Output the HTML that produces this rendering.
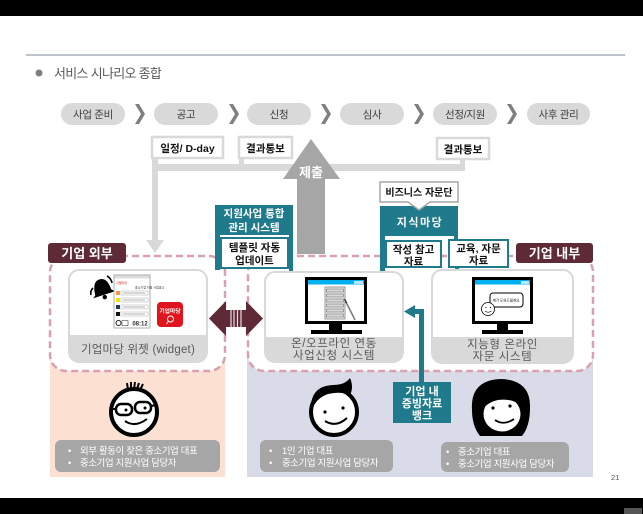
<!DOCTYPE html>
<html><head><meta charset="utf-8">
<style>
html,body{margin:0;padding:0;background:#fff;}
svg{display:block;}
text{font-family:"Liberation Sans","Noto Sans CJK KR",sans-serif;}
</style></head><body>
<svg width="643" height="514" viewBox="0 0 643 514" xmlns="http://www.w3.org/2000/svg">
<!-- bars -->
<rect x="0" y="0" width="643" height="16" fill="#000"/>
<rect x="0" y="498" width="643" height="16" fill="#000"/>
<rect x="624" y="508" width="18" height="6" fill="#555"/>

<!-- header -->
<line x1="26" y1="55" x2="625" y2="55" stroke="#a7afbb" stroke-width="1.5"/>
<circle cx="39" cy="73" r="3.5" fill="#7f7f7f"/>
<text x="54" y="78" font-size="13" fill="#595959" letter-spacing="-0.7">서비스 시나리오 종합</text>

<!-- process pills -->
<g fill="#d9d9d9">
<rect x="61" y="103" width="64" height="22" rx="11"/>
<rect x="154" y="103" width="64" height="22" rx="11"/>
<rect x="247" y="103" width="64" height="22" rx="11"/>
<rect x="340" y="103" width="64" height="22" rx="11"/>
<rect x="433" y="103" width="64" height="22" rx="11"/>
<rect x="527" y="103" width="63" height="22" rx="11"/>
</g>
<g font-size="10.5" fill="#404040" text-anchor="middle" letter-spacing="-0.3">
<text x="93" y="118">사업 준비</text>
<text x="186" y="118">공고</text>
<text x="279" y="118">신청</text>
<text x="372" y="118">심사</text>
<text x="465" y="118">선정/지원</text>
<text x="558.5" y="118">사후 관리</text>
</g>
<g fill="#7f7f7f">
<polygon points="135,104 139,104 145,114 139,124 135,124 141,114"/>
<polygon points="229,104 233,104 239,114 233,124 229,124 235,114"/>
<polygon points="321,104 325,104 331,114 325,124 321,124 327,114"/>
<polygon points="414,104 418,104 424,114 418,124 414,124 420,114"/>
<polygon points="507,104 511,104 517,114 511,124 507,124 513,114"/>
</g>

<!-- background regions -->
<rect x="50" y="350" width="175" height="127" fill="#fce1d3"/>
<rect x="247" y="350" width="346" height="127" fill="#dadbe9"/>
<rect x="50" y="256" width="175" height="115" rx="16" fill="#fff" stroke="#d8a1ad" stroke-width="2.5" stroke-dasharray="7 4"/>
<rect x="248" y="256" width="345" height="115" rx="16" fill="#fff" stroke="#d8a1ad" stroke-width="2.5" stroke-dasharray="7 4"/>

<!-- grey connectors -->
<g fill="#d9d9d9">
<rect x="152" y="164" width="313" height="7"/>
<rect x="152" y="158" width="6" height="84"/>
<polygon points="146,240 164,240 155,253"/>
<rect x="239" y="158" width="5" height="7"/>
<rect x="460" y="158" width="5" height="7"/>
</g>
<g fill="#fff" stroke="#d9d9d9" stroke-width="2.5">
<rect x="152" y="137" width="71" height="21"/>
<rect x="239" y="137" width="53" height="21"/>
<rect x="437" y="138" width="52" height="21"/>
</g>
<g font-size="10.5" font-weight="bold" fill="#111" text-anchor="middle">
<text x="187.5" y="152">일정/ D-day</text>
<text x="265.5" y="152">결과통보</text>
<text x="463" y="153">결과통보</text>
</g>

<!-- 제출 arrow -->
<polygon points="311,139 340,179 325,179 325,254 297,254 297,179 283,179" fill="#a6a6a6"/>
<text x="311" y="177" font-size="13" font-weight="bold" fill="#fff" text-anchor="middle">제출</text>

<!-- 지원사업 통합 관리 시스템 -->
<g fill="#1f7a8c">
<rect x="215" y="205" width="78" height="30"/>
<rect x="215" y="235" width="5" height="35"/>
<rect x="289" y="235" width="4" height="42"/>
<polygon points="284,276 298,276 291,289"/>
</g>
<rect x="221" y="238" width="67" height="30" fill="#fff" stroke="#1f7a8c" stroke-width="2"/>
<g font-size="10.5" font-weight="bold" text-anchor="middle">
<text x="254" y="217" fill="#fff">지원사업 통합</text>
<text x="254" y="231" fill="#fff">관리 시스템</text>
<text x="254.5" y="251" fill="#111">템플릿 자동</text>
<text x="254.5" y="264" fill="#111">업데이트</text>
</g>

<!-- 지식마당 -->
<g fill="#1f7a8c">
<rect x="380" y="206" width="78" height="30"/>
<rect x="380" y="236" width="5" height="40"/>
<polygon points="376,276 390,276 383,289"/>
<rect x="454" y="236" width="4" height="5"/>
<rect x="455" y="267" width="4" height="9"/>
<polygon points="450,275 464,275 457,288"/>
</g>
<rect x="386" y="241" width="55" height="26" fill="#fff" stroke="#1f7a8c" stroke-width="2"/>
<rect x="449" y="240" width="59" height="27" fill="#fff" stroke="#1f7a8c" stroke-width="2"/>
<path d="M380,182 H458 V202 H430 L419,210 L408,202 H380 Z" fill="#fff" stroke="#a6a6a6" stroke-width="1.5"/>
<g font-weight="bold" text-anchor="middle">
<text x="419" y="196" font-size="10" fill="#111">비즈니스 자문단</text>
<text x="420" y="226" font-size="11" fill="#fff" letter-spacing="1.5">지식마당</text>
<text x="413.5" y="253" font-size="10.5" fill="#111">작성 참고</text>
<text x="413.5" y="265" font-size="10.5" fill="#111">자료</text>
<text x="478.5" y="252" font-size="10.5" fill="#111">교육, 자문</text>
<text x="478.5" y="264" font-size="10.5" fill="#111">자료</text>
</g>

<!-- region labels -->
<rect x="48" y="243" width="78" height="20" rx="3" fill="#5e2a35"/>
<rect x="516" y="243" width="77" height="20" rx="3" fill="#5e2a35"/>
<g font-size="13" font-weight="bold" fill="#fff" text-anchor="middle">
<text x="87" y="258">기업 외부</text>
<text x="554.5" y="258">기업 내부</text>
</g>

<!-- cards -->
<g fill="#fff" stroke="#d9d9d9" stroke-width="2">
<rect x="69" y="270" width="138" height="92" rx="10"/>
<rect x="265" y="272" width="138" height="90" rx="10"/>
<rect x="432" y="270" width="141" height="93" rx="10"/>
</g>
<g fill="#d9d9d9">
<path d="M70,335 H206 V352 Q206,361 197,361 H79 Q70,361 70,352 Z"/>
<path d="M266,337 H402 V352 Q402,361 393,361 H275 Q266,361 266,352 Z"/>
<path d="M433,337 H572 V353 Q572,362 563,362 H442 Q433,362 433,353 Z"/>
</g>
<g font-size="11.5" fill="#595959" text-anchor="middle">
<text x="138" y="353" letter-spacing="0.2">기업마당 위젯 (widget)</text>
<text x="334" y="347" letter-spacing="0.6">온/오프라인 연동</text>
<text x="334" y="359" letter-spacing="0.6">사업신청 시스템</text>
<text x="502.5" y="348" letter-spacing="0.6">지능형 온라인</text>
<text x="502.5" y="360" letter-spacing="0.6">자문 시스템</text>
</g>

<!-- widget contents -->
<g transform="rotate(-18 102 287)">
<path d="M93,293 C94,284 96,279 102,279 C108,279 110,285 110,292 L113,295 L90,295 Z" fill="#000"/>
<circle cx="101.5" cy="297.5" r="2.2" fill="#000"/>
</g>
<path d="M107,276 q4,2 5,7" stroke="#000" stroke-width="1.6" fill="none"/>
<path d="M93,288 q-3,3 -2,7" stroke="#000" stroke-width="1.6" fill="none"/>
<rect x="114" y="275" width="36" height="53" fill="#fff" stroke="#9a9a9a" stroke-width="0.8"/>
<rect x="114.5" y="275.5" width="35" height="3" fill="#ddd"/>
<text x="116" y="284" font-size="3" fill="#c00">기업마당</text>
<text x="135" y="288.5" font-size="3" fill="#333">중소기업 지원 사업공고</text>
<rect x="116" y="291" width="4" height="4" fill="#f79646"/>
<rect x="116" y="298" width="4" height="4" fill="#e8e800"/>
<rect x="116" y="305" width="4" height="4" fill="#1f3864"/>
<rect x="116" y="312" width="4" height="4" fill="#111"/>
<g fill="none" stroke="#aaa" stroke-width="0.5">
<rect x="121" y="291" width="27" height="4"/>
<rect x="121" y="298" width="27" height="4"/>
<rect x="121" y="305" width="27" height="4"/>
<rect x="121" y="312" width="27" height="4"/>
</g>
<g stroke="#666" stroke-width="0.6">
<line x1="123" y1="293" x2="145" y2="293"/>
<line x1="123" y1="300" x2="145" y2="300"/>
<line x1="123" y1="307" x2="145" y2="307"/>
<line x1="123" y1="314" x2="145" y2="314"/>
</g>
<circle cx="118.5" cy="323" r="2.5" fill="none" stroke="#222" stroke-width="1"/>
<rect x="122" y="320.5" width="6" height="5" fill="none" stroke="#444" stroke-width="0.6"/>
<text x="140" y="325.5" font-size="6" font-weight="bold" fill="#333" text-anchor="middle">08:12</text>
<rect x="157" y="302" width="26" height="25" rx="4" fill="#e0141c"/>
<text x="170" y="313" font-size="5.8" font-weight="bold" fill="#fff" text-anchor="middle">기업마당</text>
<circle cx="170.5" cy="319" r="3" fill="none" stroke="#fff" stroke-width="1"/>
<line x1="168.5" y1="321" x2="166.5" y2="324" stroke="#fff" stroke-width="1"/>

<!-- middle monitor -->
<rect x="305" y="277" width="62" height="47" fill="#000"/>
<rect x="308" y="280" width="56" height="41" fill="#fff"/>
<rect x="308" y="280" width="56" height="4.5" fill="#00b0f0"/>
<rect x="354" y="281" width="9" height="3" fill="#fff" opacity="0.7"/>
<rect x="329" y="324" width="13" height="6" fill="#000"/>
<rect x="311" y="330" width="51" height="4" fill="#000"/>
<rect x="325" y="287" width="20" height="32" fill="#eee" stroke="#7f7f7f" stroke-width="0.8"/>
<g fill="#d9d9d9" stroke="#7f7f7f" stroke-width="0.7">
<rect x="326.5" y="289" width="17" height="3"/>
<rect x="326.5" y="294" width="17" height="3"/>
<rect x="326.5" y="299" width="17" height="3"/>
<rect x="326.5" y="304" width="17" height="3"/>
<rect x="326.5" y="309" width="17" height="3"/>
<rect x="326.5" y="314" width="17" height="3"/>
</g>
<line x1="345" y1="300" x2="355" y2="320" stroke="#7f7f7f" stroke-width="1.6"/>
<line x1="344.5" y1="299" x2="346.5" y2="303" stroke="#222" stroke-width="1.2"/>

<!-- right monitor -->
<rect x="472" y="277" width="61" height="47" fill="#000"/>
<rect x="475" y="280" width="55" height="41" fill="#fff"/>
<rect x="475" y="280" width="55" height="4.5" fill="#00b0f0"/>
<rect x="521" y="281" width="8" height="3" fill="#fff" opacity="0.7"/>
<rect x="497" y="324" width="11" height="6" fill="#000"/>
<rect x="482" y="330" width="41" height="4" fill="#000"/>
<rect x="490" y="293" width="33" height="14" rx="3" fill="#fff" stroke="#000" stroke-width="1"/>
<text x="506.5" y="301.5" font-size="3.5" fill="#000" text-anchor="middle">제가 도와드릴게요.</text>
<circle cx="488" cy="309" r="6.5" fill="#fff" stroke="#000" stroke-width="0.8"/>
<circle cx="486" cy="307.5" r="0.6" fill="#000"/>
<circle cx="490.5" cy="307.5" r="0.6" fill="#000"/>
<path d="M485,311 Q488,313.5 491.5,311" fill="none" stroke="#000" stroke-width="0.6"/>

<!-- double arrow -->
<polygon points="209,318.5 226,301 226,310 246,310 246,301 263,318.5 246,336 246,327 226,327 226,336" fill="#5e2a35"/>
<g stroke="#fff" stroke-width="1.2" opacity="0.85">
<line x1="231" y1="310" x2="231" y2="327"/>
<line x1="234" y1="310" x2="234" y2="327"/>
<line x1="237.5" y1="310" x2="237.5" y2="327"/>
<line x1="241" y1="310" x2="241" y2="327"/>
</g>

<!-- 증빙자료 bank -->
<g fill="#1f7a8c">
<rect x="419" y="309" width="5" height="73"/>
<rect x="413" y="309" width="11" height="5"/>
<polygon points="404,311.5 415,305 415,318"/>
<rect x="393" y="382" width="58" height="41"/>
</g>
<g font-size="11" font-weight="bold" fill="#fff" text-anchor="middle">
<text x="422" y="395">기업 내</text>
<text x="422" y="407">증빙자료</text>
<text x="422" y="419">뱅크</text>
</g>

<!-- faces -->
<!-- left: glasses -->
<g stroke="#000" fill="none" stroke-width="2">
<path d="M128,390 l-1,-7 M131,389 l0,-7 M134,389 l1,-7 M137,389 l2,-6 M140,390 l3,-6"/>
</g>
<circle cx="134" cy="412" r="23" fill="#fff" stroke="#000" stroke-width="4"/>
<g stroke="#000" stroke-width="2.5" fill="#fff">
<rect x="116" y="404" width="16" height="11" rx="5"/>
<rect x="135" y="402" width="16" height="11" rx="5"/>
</g>
<circle cx="126" cy="410" r="1.5" fill="#000"/>
<circle cx="145" cy="408" r="1.5" fill="#000"/>
<path d="M112,409 L116,409 M151,406 L156,405" stroke="#000" stroke-width="2"/>
<path d="M125,421 Q135,428 147,419" fill="none" stroke="#000" stroke-width="2"/>

<!-- middle -->
<circle cx="334" cy="412" r="23" fill="#fff" stroke="#000" stroke-width="4"/>
<path d="M311,410 Q310,386 333,385 Q345,385 350,378 Q354,387 350,395 Q340,391 328,394 Q316,398 312,410 Z" fill="#000"/>
<circle cx="325" cy="412" r="1.6" fill="#000"/>
<circle cx="343" cy="408" r="1.6" fill="#000"/>
<path d="M325,421 Q336,428 347,418" fill="none" stroke="#000" stroke-width="2"/>

<!-- right: woman -->
<path d="M472,410 Q470,380 501,379 Q531,380 530,408 Q530,426 522,436 L480,436 Q472,426 472,410 Z" fill="#000"/>
<ellipse cx="502" cy="414" rx="18.5" ry="17.5" fill="#fff"/>
<path d="M482,410 Q484,392 503,392 Q518,392 522,406 Q512,398 498,400 Q488,402 482,410 Z" fill="#000"/>
<circle cx="493" cy="408" r="1.6" fill="#000"/>
<circle cx="510" cy="406" r="1.6" fill="#000"/>
<path d="M495,420 Q504,426 514,419" fill="none" stroke="#000" stroke-width="1.8"/>

<!-- grey description boxes -->
<g fill="#a6a6a6">
<rect x="55" y="440" width="165" height="32" rx="6"/>
<rect x="260" y="440" width="133" height="32" rx="6"/>
<rect x="441" y="442" width="128" height="30" rx="6"/>
</g>
<g font-size="9.4" fill="#fff" letter-spacing="-0.3">
<text x="68" y="454">•</text><text x="80" y="454">외부 활동이 잦은 중소기업 대표</text>
<text x="68" y="466">•</text><text x="80" y="466">중소기업 지원사업 담당자</text>
<text x="269" y="454">•</text><text x="282" y="454">1인 기업 대표</text>
<text x="269" y="466">•</text><text x="282" y="466">중소기업 지원사업 담당자</text>
<text x="446" y="455">•</text><text x="458" y="455">중소기업 대표</text>
<text x="446" y="467">•</text><text x="458" y="467">중소기업 지원사업 담당자</text>
</g>

<text x="611" y="480" font-size="7.5" fill="#595959">21</text>
</svg>
</body></html>
